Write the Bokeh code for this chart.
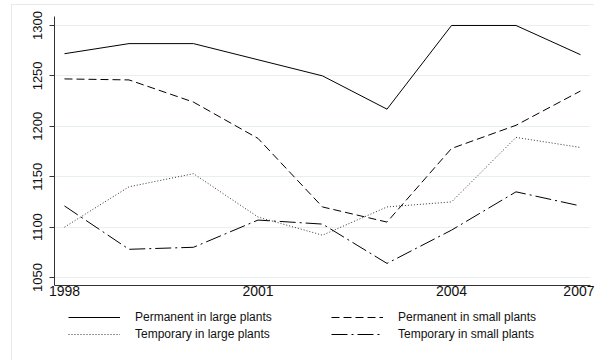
from bokeh.plotting import figure
from bokeh.layouts import column
from bokeh.models import Legend, LegendItem, Range1d, FixedTicker
from bokeh.embed import file_html
from bokeh.resources import INLINE

# ---- data ----
periods = [0, 1, 2, 3, 4, 5, 6, 7, 8]
tick_positions = [0, 3, 6, 8]
tick_labels = ["1998", "2001", "2004", "2007"]
y_ticks = [1050, 1100, 1150, 1200, 1250, 1300]

perm_large = [1272, 1282, 1282, 1266, 1250, 1217, 1300, 1300, 1271]
perm_small = [1247, 1246, 1224, 1188, 1120, 1105, 1178, 1201, 1235]
temp_large = [1100, 1140, 1153, 1110, 1092, 1120, 1125, 1189, 1179]
temp_small = [1121, 1078, 1080, 1107, 1103, 1064, 1097, 1135, 1121]

names = ["Permanent in large plants", "Permanent in small plants",
         "Temporary in large plants", "Temporary in small plants"]
all_series = [perm_large, perm_small, temp_large, temp_small]

FONT = "Liberation Sans"
styles = [dict(line_color="#000000", line_width=1),
          dict(line_color="#000000", line_width=1, line_dash="8 4"),
          dict(line_color="#333333", line_width=1, line_dash="1 2"),
          dict(line_color="#000000", line_width=1, line_dash="16 4 2 4")]

p = figure(width=582, height=300, output_backend="svg", toolbar_location=None,
           x_range=Range1d(-0.155, 8.155), y_range=Range1d(1042.1, 1308.9),
           min_border_left=42, min_border_right=4, min_border_top=11, min_border_bottom=20)
p.outline_line_color = None
p.background_fill_color = "white"
p.border_fill_color = "white"

for series, st in zip(all_series, styles):
    p.line(periods, series, **st)

# axes
p.xaxis.ticker = FixedTicker(ticks=tick_positions)
p.xaxis.major_label_overrides = {pos: lab for pos, lab in zip(tick_positions, tick_labels)}
p.xaxis.major_tick_out = 0
p.xaxis.major_tick_in = 0
p.xaxis.minor_tick_line_color = None
p.xaxis.major_label_standoff = 0
p.xaxis.major_label_text_font = FONT
p.xaxis.major_label_text_font_size = "14px"
p.xaxis.major_label_text_color = "#111111"
p.xaxis.axis_line_color = "#333333"

p.yaxis.ticker = FixedTicker(ticks=y_ticks)
p.yaxis.major_tick_out = 5
p.yaxis.major_tick_in = 0
p.yaxis.minor_tick_line_color = None
p.yaxis.major_label_orientation = "vertical"
p.yaxis.major_label_standoff = 7
p.yaxis.major_label_text_font = FONT
p.yaxis.major_label_text_font_size = "13px"
p.yaxis.major_label_text_color = "#111111"
p.yaxis.axis_line_color = "#333333"
p.yaxis.major_tick_line_color = "#333333"

p.xgrid.grid_line_color = None
p.ygrid.ticker = FixedTicker(ticks=y_ticks)
p.ygrid.grid_line_color = "#e8eff1"
p.ygrid.grid_line_width = 1

# legend strip below the chart
p2 = figure(width=582, height=55, output_backend="svg", toolbar_location=None,
            x_range=Range1d(0, 1), y_range=Range1d(0, 1),
            min_border_left=42, min_border_right=4, min_border_top=0, min_border_bottom=0)
p2.axis.visible = False
p2.grid.visible = False
p2.outline_line_color = None
p2.background_fill_color = "white"
p2.border_fill_color = "white"
proxies = [p2.line(periods[:1], s[:1], **st) for s, st in zip(all_series, styles)]

legend = Legend(items=[LegendItem(label=n, renderers=[r]) for n, r in zip(names, proxies)],
                orientation="horizontal", ncols=2, location=(14, 18),
                glyph_width=52, glyph_height=16, label_height=16, label_width=195,
                label_standoff=15, spacing=1, padding=0, margin=0,
                label_text_font=FONT, label_text_font_size="12px",
                label_text_color="#111111",
                background_fill_alpha=0, border_line_color=None)
p2.add_layout(legend, "center")

layout = column(p, p2, spacing=0,
                styles={"border-left": "1px solid #e2eaec", "border-top": "1px solid #e2eaec"})
layout.margin = (4, 0, 0, 11)

open("out.html", "w").write(file_html(layout, INLINE))
